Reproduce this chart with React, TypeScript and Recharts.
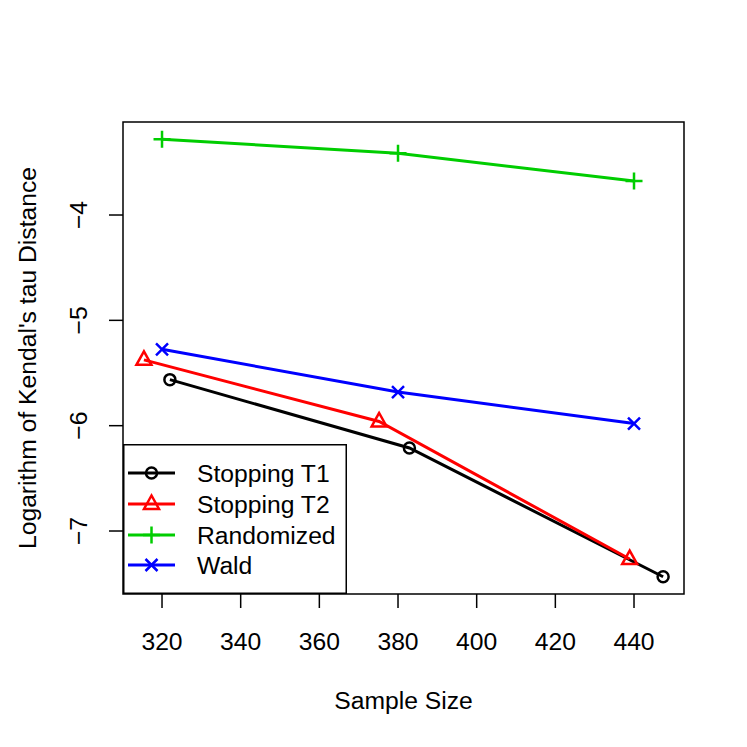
import React from 'react';
import { LineChart, Line, XAxis, YAxis, ReferenceArea, Legend } from 'recharts';

// values
const xTicks = [320, 340, 360, 380, 400, 420, 440];
const yTicks = [-7, -6, -5, -4];

const t1X = [322.0, 382.9, 447.4];
const t1Y = [-5.563, -6.212, -7.434];
const t2X = [315.4, 375.2, 438.9];
const t2Y = [-5.375, -5.96, -7.266];
const randX = [320, 380, 440];
const randY = [-3.281, -3.414, -3.677];
const waldX = [320, 380, 440];
const waldY = [-5.275, -5.681, -5.98];

const seriesNames = ['Stopping T1', 'Stopping T2', 'Randomized', 'Wald'];
const seriesColors = ['#000000', '#FF0000', '#00CD00', '#0000FF'];
const seriesShapes = ['circle', 'triangle', 'plus', 'cross'];

const X_DOMAIN: [number, number] = [310.08, 452.71];
const Y_DOMAIN: [number, number] = [-7.598, -3.117];

const FONT = '"Liberation Sans", Arial, sans-serif';
const FS = 24.7;

const toRows = (xs: number[], ys: number[]) => xs.map((x, i) => ({ x, y: ys[i] }));
const seriesData = [toRows(t1X, t1Y), toRows(t2X, t2Y), toRows(randX, randY), toRows(waldX, waldY)];

// R prints negative numbers with a real minus sign
const fmt = (v: number) => String(v).replace('-', '\u2212');

const Marker = ({ cx, cy, shape, color }: { cx: number; cy: number; shape: string; color: string }) => {
  const sw = 2.5;
  if (shape === 'circle') {
    return <circle cx={cx} cy={cy} r={5.5} fill="none" stroke={color} strokeWidth={sw} />;
  }
  if (shape === 'triangle') {
    return (
      <polygon
        points={`${cx},${cy - 8.5} ${cx - 7.5},${cy + 5} ${cx + 7.5},${cy + 5}`}
        fill="none"
        stroke={color}
        strokeWidth={sw}
      />
    );
  }
  if (shape === 'plus') {
    return (
      <path d={`M${cx - 8.5},${cy} L${cx + 8.5},${cy} M${cx},${cy - 8.5} L${cx},${cy + 8.5}`} stroke={color} strokeWidth={sw} />
    );
  }
  return (
    <path d={`M${cx - 6},${cy - 6} L${cx + 6},${cy + 6} M${cx - 6},${cy + 6} L${cx + 6},${cy - 6}`} stroke={color} strokeWidth={sw} />
  );
};

const LegendBox = () => {
  const rowY = [29, 60, 91, 121];
  return (
    <svg width={224} height={150} style={{ display: 'block' }}>
      <rect x={0.75} y={0.75} width={222.5} height={148.5} fill="#fff" stroke="#000" strokeWidth={1.5} />
      {seriesNames.map((name, i) => (
        <g key={name}>
          <line x1={5} x2={52} y1={rowY[i]} y2={rowY[i]} stroke={seriesColors[i]} strokeWidth={3} />
          <Marker cx={28.5} cy={rowY[i]} shape={seriesShapes[i]} color={seriesColors[i]} />
          <text x={74} y={rowY[i] + 8.7} fontSize={FS} fontFamily={FONT} fill="#000">
            {name}
          </text>
        </g>
      ))}
    </svg>
  );
};

const XTick = (props: any) => {
  const { x, y, payload } = props;
  return (
    <text x={x} y={y + 40} textAnchor="middle" fontSize={FS} fontFamily={FONT} fill="#000">
      {fmt(payload.value)}
    </text>
  );
};

const YTick = (props: any) => {
  const { x, y, payload } = props;
  const bx = x - 20;
  return (
    <text x={bx} y={y} transform={`rotate(-90, ${bx}, ${y})`} textAnchor="middle" fontSize={FS} fontFamily={FONT} fill="#000">
      {fmt(payload.value)}
    </text>
  );
};

export default function App() {
  return (
    <div style={{ width: 731, height: 731, position: 'relative' }}>
      <LineChart width={731} height={731} margin={{ top: 114, right: 55, bottom: 15, left: 5 }}>
        <XAxis
          type="number"
          dataKey="x"
          domain={X_DOMAIN}
          allowDataOverflow
          ticks={xTicks}
          height={130}
          axisLine={false}
          tickSize={14}
          tickLine={{ stroke: '#000', strokeWidth: 1.5 }}
          tick={<XTick />}
          label={({ viewBox }: any) => (
            <text
              x={viewBox.x + viewBox.width / 2}
              y={viewBox.y + 115}
              textAnchor="middle"
              fontSize={FS}
              fontFamily={FONT}
              fill="#000"
            >
              Sample Size
            </text>
          )}
        />
        <YAxis
          type="number"
          dataKey="y"
          domain={Y_DOMAIN}
          allowDataOverflow
          ticks={yTicks}
          width={110}
          axisLine={false}
          tickSize={14}
          tickLine={{ stroke: '#000', strokeWidth: 1.5 }}
          tick={<YTick />}
          label={({ viewBox }: any) => {
            const lx = viewBox.x + viewBox.width - 87;
            const ly = viewBox.y + viewBox.height / 2;
            return (
              <text
                x={lx}
                y={ly}
                transform={`rotate(-90, ${lx}, ${ly})`}
                textAnchor="middle"
                fontSize={FS}
                fontFamily={FONT}
                fill="#000"
              >
                Logarithm of Kendal's tau Distance
              </text>
            );
          }}
        />
        <ReferenceArea
          x1={X_DOMAIN[0]}
          x2={X_DOMAIN[1]}
          y1={Y_DOMAIN[0]}
          y2={Y_DOMAIN[1]}
          fill="none"
          stroke="#000"
          strokeWidth={1.5}
          ifOverflow="visible"
        />
        {seriesData.map((rows, i) => (
          <Line
            key={seriesNames[i]}
            data={rows}
            dataKey="y"
            name={seriesNames[i]}
            type="linear"
            stroke={seriesColors[i]}
            strokeWidth={3}
            isAnimationActive={false}
            activeDot={false}
            dot={(p: any) => <Marker key={`${i}-${p.index}`} cx={p.cx} cy={p.cy} shape={seriesShapes[i]} color={seriesColors[i]} />}
          />
        ))}
        <Legend
          layout="vertical"
          align="center"
          verticalAlign="middle"
          content={() => <LegendBox />}
          wrapperStyle={{ left: 115, top: 436, width: 224, height: 150, margin: 0, padding: 0 }}
        />
      </LineChart>
    </div>
  );
}
